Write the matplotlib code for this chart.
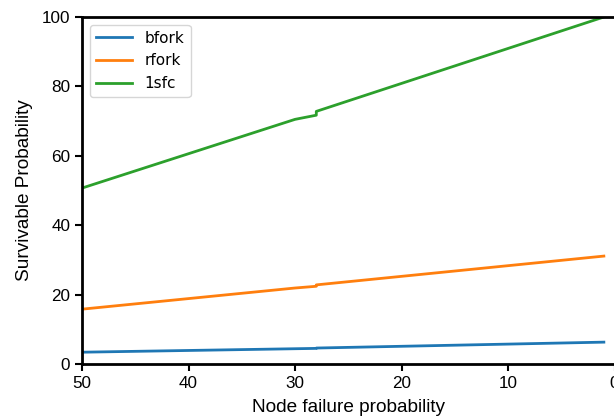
import matplotlib
matplotlib.use("Agg")
import matplotlib.pyplot as plt

plt.rcParams['font.family'] = ['Liberation Sans', 'DejaVu Sans']

bfork_x = [50, 28, 28, 1]
bfork_y = [3.4, 4.5, 4.6, 6.3]
rfork_x = [50, 30, 28, 28, 1]
rfork_y = [15.8, 21.9, 22.4, 22.8, 31.1]
sfc_x = [50, 30, 28, 28, 1]
sfc_y = [50.7, 70.5, 71.7, 72.8, 100.0]

xticks = [50, 40, 30, 20, 10, 0]
yticks = [0, 20, 40, 60, 80, 100]

fig = plt.figure(figsize=(6.14, 4.18), dpi=100)
ax = fig.add_axes([82/614, 54/418, 532.5/614, 347/418])
ax.plot(bfork_x, bfork_y, color='#1f77b4', lw=2, label='bfork')
ax.plot(rfork_x, rfork_y, color='#ff7f0e', lw=2, label='rfork')
ax.plot(sfc_x, sfc_y, color='#2ca02c', lw=2, label='1sfc')
ax.set_xlim(50, 0)
ax.set_ylim(0, 100)
ax.set_xticks(xticks)
ax.set_yticks(yticks)
ax.tick_params(labelsize=12.3, width=1.5, length=5)
for s in ax.spines.values():
    s.set_linewidth(2)
ax.set_xlabel('Node failure probability', fontsize=13.7, labelpad=6)
ax.set_ylabel('Survivable Probability', fontsize=13.7, labelpad=6)
ax.legend(loc='upper left', prop={'family': 'DejaVu Sans', 'size': 11},
          handlelength=2.4)
fig.savefig('out.png', dpi=100)
